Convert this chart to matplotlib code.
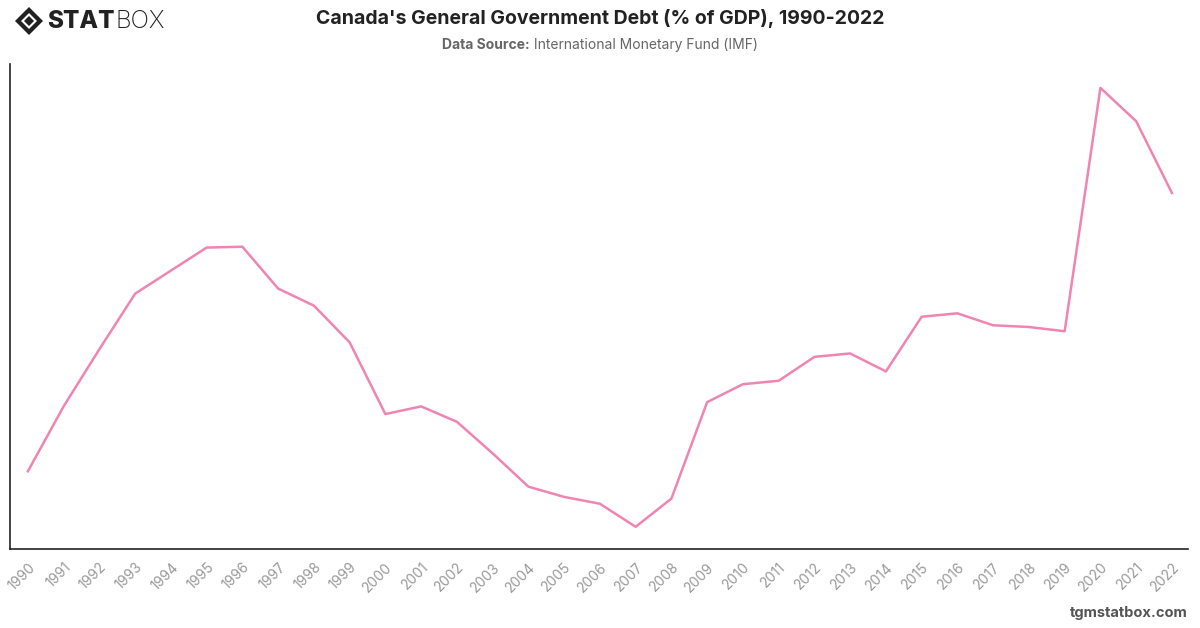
import matplotlib.pyplot as plt
from matplotlib.patches import RegularPolygon

# Canada general government debt, % of GDP
years = [str(y) for y in range(1990, 2023)]
debt = [73.3, 80.9, 87.6, 94.1, 96.8, 99.5, 99.6, 94.7, 92.7, 88.4,
        80.0, 80.9, 79.1, 75.4, 71.5, 70.3, 69.5, 66.8, 70.1, 81.4,
        83.5, 83.9, 86.7, 87.1, 85.0, 91.4, 91.8, 90.4, 90.2, 89.7,
        118.2, 114.3, 105.9]

title = "Canada's General Government Debt (% of GDP), 1990-2022"
plt.rcParams['font.family'] = ['Inter', 'DejaVu Sans']

W, H = 1200, 628
fig = plt.figure(figsize=(12, 6.28), dpi=100)
ax = fig.add_axes([10 / W, 1 - 549 / H, 1178 / W, 485 / H])

x = list(range(len(years)))
ax.plot(x, debt, color='#f084b3', linewidth=1.8)

ax.set_xlim(-0.5, 32.45)
ax.set_ylim(64.2, 121.0)
ax.set_yticks([])
ax.set_xticks(x)
ax.set_xticklabels(years, rotation=45, ha='right', rotation_mode='anchor',
                   fontsize=10, color='#999999')
ax.tick_params(axis='x', length=0, pad=8)
for side in ['top', 'right']:
    ax.spines[side].set_visible(False)
for side in ['left', 'bottom']:
    ax.spines[side].set_color('#222222')
    ax.spines[side].set_linewidth(1.2)

# titles
fig.text(0.5, 1 - 18 / H, title, ha='center', va='center',
         fontsize=14, fontweight='bold', color='#222222')
renderer = fig.canvas.get_renderer()
t1 = fig.text(0, 1 - 45 / H, 'Data Source:', ha='left', va='center',
              fontsize=10, fontweight='bold', color='#666666')
t2 = fig.text(0, 1 - 45 / H, ' International Monetary Fund (IMF)',
              ha='left', va='center', fontsize=10, color='#666666')
w1 = t1.get_window_extent(renderer).width
w2 = t2.get_window_extent(renderer).width
x0 = (W - w1 - w2) / 2
t1.set_x(x0 / W)
t2.set_x((x0 + w1) / W)

# logo
cx, cy = 29, H - 21
for r, c in [(14, '#222222'), (8, 'white'), (5, '#222222')]:
    fig.patches.append(RegularPolygon((cx, cy), 4, radius=r, transform=None,
                                      facecolor=c, edgecolor='none'))
s1 = fig.text(47 / W, 1 - 21 / H, 'STAT', ha='left', va='center',
              fontsize=17.5, fontweight='heavy', color='#222222')
ws = s1.get_window_extent(renderer).width
fig.text((47 + ws + 1) / W, 1 - 21 / H, 'BOX', ha='left', va='center',
         fontsize=17.5, fontweight='light', color='#222222')

fig.text(1 - 12 / W, 1 - 613 / H, 'tgmstatbox.com', ha='right',
         va='center', fontsize=10.5, fontweight='bold', color='#555555')

fig.savefig('out.png', dpi=100)
